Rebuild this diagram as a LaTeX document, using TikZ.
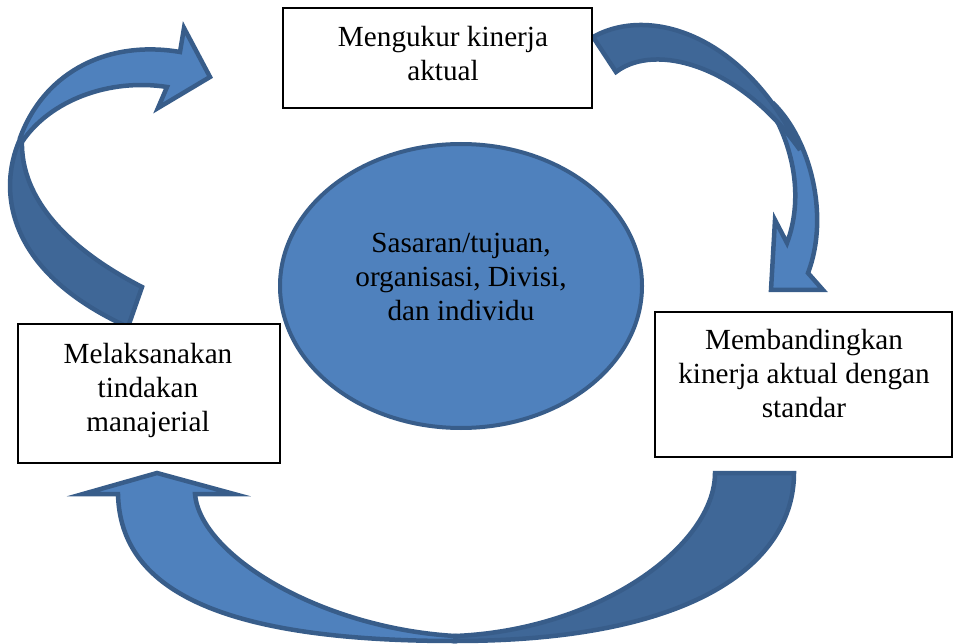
\documentclass[tikz,border=0pt]{standalone}
\usepackage{fontspec}
\setmainfont{Liberation Serif}
\usetikzlibrary{shapes.geometric}
\definecolor{lightblue}{HTML}{4F81BD}
\definecolor{darkblue}{HTML}{3F6797}
\definecolor{edgeblue}{HTML}{385D8A}
\begin{document}
\begin{tikzpicture}[x=1pt,y=-1pt,
  band/.style={draw=edgeblue, line width=4.5pt, line join=miter},
  front/.style={band, fill=lightblue},
  back/.style={band, fill=darkblue},
  box/.style={draw=black, line width=1.3pt, fill=white, rectangle, inner sep=0pt},
  txt/.style={font=\fontsize{29.2}{34}\selectfont, align=center, text=black, inner sep=0pt}]
\useasboundingbox (0,0) rectangle (953,644);

% left arrow (from left box up to top box)
\filldraw[back] (22,135) .. controls (-3,185) and (2,270) .. (128,327) -- (142,287)
   .. controls (70,250) and (20,200) .. (22,140) -- cycle;
\filldraw[front] (20,138) .. controls (45,70) and (110,40) .. (180,52) -- (184,28) -- (210,77)
   -- (158,108) -- (167,87) .. controls (110,78) and (50,100) .. (22,142) -- cycle;

% top-right arrow (from top box down to right box)
\filldraw[front] (774,104) .. controls (810,140) and (830,215) .. (808,273) -- (823,290)
   -- (771,290) -- (775,220) -- (787,243) .. controls (803,200) and (795,150) .. (770,108) -- cycle;
\filldraw[back] (593,37) .. controls (650,5) and (745,35) .. (800,150)
   .. controls (740,65) and (655,42) .. (616,72) -- cycle;

% bottom arrow (from right box round to left box)
\filldraw[back] (794,473) .. controls (794,560) and (700,641) .. (455,641) -- (455,636)
   .. controls (600,630) and (715,545) .. (715,473) -- cycle;
\filldraw[front] (118,494) .. controls (120,580) and (200,641) .. (455,641) -- (455,636)
   .. controls (320,628) and (200,555) .. (195,494) -- (234,494) -- (157,473) -- (83,494) -- cycle;

% centre ellipse
\node[ellipse, draw=edgeblue, fill=lightblue, line width=4pt, minimum width=362pt,
      minimum height=284pt, inner sep=0pt] (goal) at (461,286) {};
\node[txt] (goaltext) at (461,276.5) {Sasaran/tujuan,\\organisasi, Divisi,\\dan individu};

% boxes
\node[box, minimum width=309pt, minimum height=100pt] (measure) at (437.5,58) {};
\node[txt] (measuretext) at (443,53.5) {Mengukur kinerja\\aktual};

\node[box, minimum width=262pt, minimum height=139pt] (act) at (149,393.5) {};
\node[txt] (acttext) at (148,390.5) {Melaksanakan\\tindakan\\manajerial};

\node[box, minimum width=297pt, minimum height=145pt] (compare) at (803.5,384.5) {};
\node[txt] (comparetext) at (804,373.5) {Membandingkan\\kinerja aktual dengan\\standar};
\end{tikzpicture}
\end{document}
